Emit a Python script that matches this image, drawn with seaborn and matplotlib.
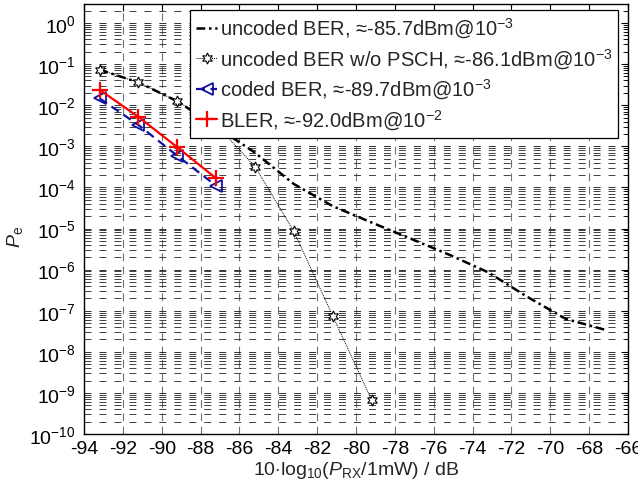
import numpy as np
import pandas as pd
import matplotlib
matplotlib.use("Agg")
import matplotlib.pyplot as plt
import seaborn as sns
from matplotlib.ticker import LogLocator, NullFormatter, FixedLocator

# ---------------- data ----------------
x_uncoded = [-93.2, -91.2, -89.2, -87.2, -85.2, -83.2, -81.2, -79.2, -77.2, -75.2, -73.2, -71.2, -69.2, -67.2]
ber_uncoded = [7.3e-2, 3.6e-2, 1.25e-2, 3.0e-3, 7.0e-4, 1.21e-4, 3.5e-5, 1.4e-5, 5.7e-6, 2.3e-6, 8.6e-7, 2.2e-7, 6.3e-8, 3.45e-8]

x_nopsch = [-93.2, -91.2, -89.2, -87.2, -85.2, -83.2, -81.2, -79.2]
ber_nopsch = [7.3e-2, 3.6e-2, 1.24e-2, 3.4e-3, 3.2e-4, 8.5e-6, 7.5e-8, 6.8e-10]

x_coded = [-93.2, -91.2, -89.2, -87.2]
ber_coded = [1.47e-2, 3.3e-3, 5.9e-4, 1.1e-4]

x_bler = [-93.2, -91.2, -89.2, -87.2]
bler = [2.38e-2, 5.2e-3, 9.5e-4, 1.66e-4]

labels = [
    "uncoded BER, \u2248-85.7dBm@10$^{-3}$",
    "uncoded BER w/o PSCH, \u2248-86.1dBm@10$^{-3}$",
    "coded BER, \u2248-89.7dBm@10$^{-3}$",
    "BLER, \u2248-92.0dBm@10$^{-2}$",
]
xticks = list(range(-94, -65, 2))

# ---------------- style ----------------
sns.set_theme(style="white")
plt.rcParams["font.family"] = ["Liberation Sans", "DejaVu Sans"]
plt.rcParams["mathtext.fontset"] = "custom"
plt.rcParams["mathtext.rm"] = "Liberation Sans"
plt.rcParams["mathtext.it"] = "Liberation Sans:italic"
plt.rcParams["mathtext.bf"] = "Liberation Sans:bold"

fig = plt.figure(figsize=(6.38, 4.85), dpi=100)
ax = fig.add_axes([84 / 638, 50 / 485, 544 / 638, 430 / 485])
ax.set_yscale("log")

df_unc = pd.DataFrame({"x": x_uncoded, "y": ber_uncoded})
df_nop = pd.DataFrame({"x": x_nopsch, "y": ber_nopsch})
df_cod = pd.DataFrame({"x": x_coded, "y": ber_coded})
df_bl = pd.DataFrame({"x": x_bler, "y": bler})

sns.lineplot(data=df_unc, x="x", y="y", ax=ax, color="black", lw=1.8,
             linestyle=(0, (3.5, 1.5, 1.0, 1.5)), sort=False, estimator=None,
             label=labels[0])
sns.lineplot(data=df_nop, x="x", y="y", ax=ax, color="black", lw=0.7,
             linestyle=(0, (1, 1)), marker=(6, 1, 0), markersize=8,
             markerfacecolor="white", markeredgecolor="black",
             markeredgewidth=0.8, sort=False, estimator=None, label=labels[1])
sns.lineplot(data=df_cod, x="x", y="y", ax=ax, color="#1010a0", lw=1.6,
             linestyle=(0, (4, 2.5)), marker="<", markersize=9,
             markerfacecolor="none", markeredgecolor="#1010a0",
             markeredgewidth=1.3, sort=False, estimator=None, label=labels[2])
sns.lineplot(data=df_bl, x="x", y="y", ax=ax, color="#ff0000", lw=1.6,
             linestyle="-", marker="+", markersize=11,
             markeredgecolor="#ff0000", markeredgewidth=1.6,
             sort=False, estimator=None, label=labels[3])

ax.set_xlim(-94, -66)
ax.set_ylim(1e-10, 2.9)
ax.xaxis.set_major_locator(FixedLocator(xticks))
ax.set_xticklabels([str(t) for t in xticks])
ax.yaxis.set_major_locator(LogLocator(base=10, numticks=20))
ax.yaxis.set_minor_locator(LogLocator(base=10, subs=np.arange(2, 10), numticks=200))
ax.yaxis.set_minor_formatter(NullFormatter())

ax.grid(True, which="major", axis="y", color="#303030", lw=0.7, linestyle=(0, (7.2, 8.2)))
ax.grid(True, which="minor", axis="y", color="#404040", lw=0.7, linestyle=(0, (7.2, 8.2)))
ax.grid(True, which="major", axis="x", color="#707070", lw=0.8, linestyle=(0, (7, 5)))
ax.set_axisbelow(True)

ax.tick_params(axis="both", which="both", direction="in", top=True, right=True,
               labelsize=14, colors="black")
ax.tick_params(axis="both", which="major", length=5, width=0.8)
ax.tick_params(axis="y", which="minor", length=3, width=0.6)
ax.tick_params(axis="y", which="major", pad=6)
ax.tick_params(axis="x", which="major", pad=4)

for s in ax.spines.values():
    s.set_color("black")
    s.set_linewidth(1.0)
    s.set_visible(True)

ax.set_xlabel(r"10$\cdot$log$_{10}$($P_{\mathrm{RX}}$/1mW) / dB", fontsize=14, labelpad=2)
ax.set_ylabel(r"$P_{\mathrm{e}}$", fontsize=14)
ax.yaxis.set_label_coords(-0.108, 0.46)

leg = ax.legend(loc="upper right", bbox_to_anchor=(0.982, 0.986), borderaxespad=0,
                fontsize=14.5, frameon=True, fancybox=False, framealpha=1,
                edgecolor="black", handlelength=1.05, handletextpad=0.12,
                labelspacing=0.3, borderpad=0.3, numpoints=1)
leg.get_frame().set_linewidth(0.9)

fig.savefig("out.png", dpi=100)
